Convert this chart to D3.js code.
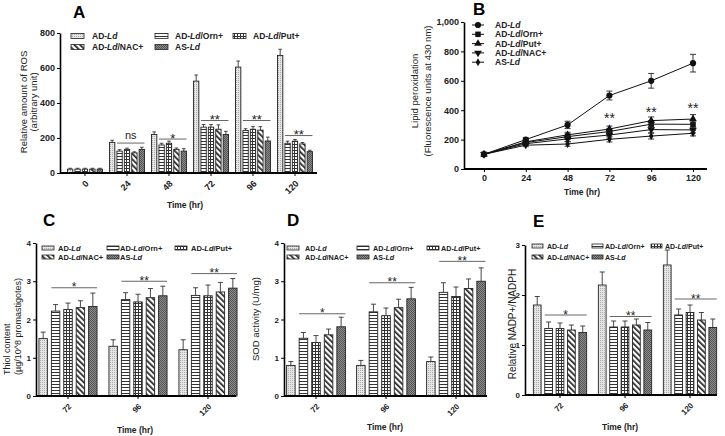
<!DOCTYPE html>
<html>
<head>
<meta charset="utf-8">
<script src="https://cdn.jsdelivr.net/npm/d3@7"></script>
<style>
body{margin:0;background:#fff}
svg{display:block;font-family:"Liberation Sans",Arial,sans-serif}
</style>
</head>
<body>
<div id="stage"></div>
<script>
// bar order inside every group, same order as legends
var series=["AD-Ld","AD-Ld/Orn+","AD-Ld/Put+","AD-Ld/NAC+","AS-Ld"];

// A - ROS
var rosTimes=["0","24","48","72","96","120"];
var rosMean=[[22,22,22,22,22],[175,125,135,115,135],[220,160,170,135,125],[525,262,262,250,220],[605,243,250,245,183],[672,170,182,166,122]];
var rosErr=[[5,5,5,5,5],[12,8,7,6,12],[15,10,12,8,14],[35,15,15,25,18],[35,10,15,20,22],[35,12,10,8,8]];
var rosSig=["","ns","*","**","**","**"];
var rosSigY=[0,171,194,300,300,214];

// B - lipid peroxidation
var lipTimes=[0,24,48,72,96,120];
var lipAD=[100,200,300,500,600,720];
var lipADerr=[8,12,25,30,50,60];
var lipOrn=[100,180,220,255,305,304];
var lipOrnErr=[8,12,20,20,25,25];
var lipPut=[100,185,232,272,329,340];
var lipPutErr=[8,12,18,20,25,30];
var lipNAC=[100,172,205,231,268,266];
var lipNACerr=[8,10,18,20,22,20];
var lipAS=[100,162,170,202,224,243];
var lipASerr=[8,10,15,18,20,18];
var lipSig=["","","","**","**","**"];
var lipSigY=[0,0,0,347,388,415];

// C - thiol
var hrs=["72","96","120"];
var thiolMean=[[1.5,2.22,2.26,2.31,2.34],[1.3,2.52,2.46,2.57,2.62],[1.21,2.63,2.62,2.72,2.82]];
var thiolErr=[[0.17,0.17,0.17,0.18,0.35],[0.17,0.18,0.2,0.24,0.25],[0.26,0.2,0.28,0.25,0.25]];
var thiolSig=["*","**","**"];
var thiolSigY=[2.83,3.0,3.2];

// D - SOD
var sodMean=[[0.8,1.51,1.4,1.6,1.81],[0.8,2.2,2.1,2.31,2.54],[0.9,2.71,2.6,2.81,3.0]];
var sodErr=[[0.1,0.15,0.18,0.15,0.25],[0.13,0.2,0.2,0.22,0.3],[0.12,0.25,0.25,0.25,0.35]];
var sodSig=["*","**","**"];
var sodSigY=[2.15,2.96,3.52];

// E - NADP+/NADPH
var nadpMean=[[1.8,1.33,1.33,1.3,1.25],[2.2,1.36,1.36,1.4,1.3],[2.6,1.6,1.65,1.5,1.35]];
var nadpErr=[[0.17,0.13,0.11,0.1,0.13],[0.26,0.12,0.12,0.12,0.15],[0.3,0.12,0.15,0.15,0.17]];
var nadpSig=["*","**","**"];
var nadpSigY=[1.6,1.57,1.92];

var svg=d3.select("#stage").append("svg").attr("width",725).attr("height",436);
svg.append("rect").attr("width",725).attr("height",436).attr("fill","#fff");
var defs=svg.append("defs");

function pat(id,w,h,bg,draw,rot){
  var p=defs.append("pattern").attr("id",id).attr("patternUnits","userSpaceOnUse")
    .attr("width",w).attr("height",h);
  if(rot) p.attr("patternTransform","rotate("+rot+")");
  p.append("rect").attr("width",w).attr("height",h).attr("fill",bg);
  draw(p);
}
pat("p0",2,2,"#e6e6e6",function(p){p.append("rect").attr("width",1).attr("height",1).attr("fill","#ababab")});
pat("p1",3,3,"#fff",function(p){p.append("rect").attr("width",3).attr("height",1).attr("fill","#333")});
pat("p2",3,3,"#fff",function(p){
  p.append("rect").attr("width",3).attr("height",1).attr("fill","#333");
  p.append("rect").attr("width",1).attr("height",3).attr("fill","#333");
});
pat("p3",4,4,"#fff",function(p){p.append("rect").attr("width",1.7).attr("height",4).attr("fill","#222")},-45);
pat("p4",2,2,"#8c8c8c",function(p){
  p.append("rect").attr("width",1).attr("height",1).attr("fill","#555");
  p.append("rect").attr("x",1).attr("y",1).attr("width",1).attr("height",1).attr("fill","#555");
});

// writes "AD-Ld/Orn+" with the Ld in italics
function richName(t,name){
  var parts=name.split("Ld");
  t.append("tspan").text(parts[0]);
  t.append("tspan").attr("font-style","italic").text("Ld");
  if(parts[1]) t.append("tspan").text(parts[1]);
}

function letter(txt,x,y){
  svg.append("text").attr("x",x).attr("y",y).attr("font-size",17).attr("font-weight","bold").text(txt);
}

function yTitle(lines,xs,y,fs,anchor){
  lines.forEach(function(l,i){
    svg.append("text").attr("transform","translate("+xs[i]+","+y+") rotate(-90)")
      .attr("text-anchor",anchor||"middle").attr("font-size",fs).attr("fill","#222").text(l);
  });
}

function xTitle(x,y,fs){
  svg.append("text").attr("x",x).attr("y",y).attr("text-anchor","middle")
    .attr("font-size",fs).attr("font-weight","bold").attr("fill","#222").text("Time (hr)");
}

function barLegend(o){
  series.forEach(function(s,i){
    var row=i<3?0:1, col=i<3?i:i-3;
    var yy=o.rows[row];
    svg.append("rect").attr("x",o.sw[col]).attr("y",yy-o.sh/2).attr("width",o.swW).attr("height",o.sh)
      .attr("fill","url(#p"+i+")").attr("stroke","#222").attr("stroke-width",0.8);
    var t=svg.append("text").attr("x",o.tx[col]).attr("y",yy+o.fs*0.36).attr("font-size",o.fs)
      .attr("font-weight","bold").attr("fill","#222");
    richName(t,s);
  });
}

function barPanel(o){
  var g=svg.append("g");
  var y=d3.scaleLinear().domain([0,o.yMax]).range([o.yBot,o.yTop]);
  var x=d3.scaleBand().domain(o.groups).range(o.band).paddingInner(o.gpad).paddingOuter(o.gpad/2);
  var xi=d3.scaleBand().domain(d3.range(series.length)).range([0,x.bandwidth()]).paddingInner(o.bpad);
  var bw=xi.bandwidth();
  var bars=[];
  o.groups.forEach(function(gr,i){
    o.mean[i].forEach(function(v,j){bars.push({g:gr,s:j,v:v,e:o.err[i][j]})});
  });
  function cx(d){return x(d.g)+xi(d.s)+bw/2}

  g.selectAll("rect.bar").data(bars).enter().append("rect")
    .attr("x",function(d){return x(d.g)+xi(d.s)})
    .attr("y",function(d){return y(d.v)})
    .attr("width",bw)
    .attr("height",function(d){return y(0)-y(d.v)})
    .attr("fill",function(d){return "url(#p"+d.s+")"})
    .attr("stroke","#222").attr("stroke-width",0.9);

  var eb=g.selectAll("g.eb").data(bars).enter().append("g").attr("stroke","#333").attr("stroke-width",0.9);
  eb.append("line").attr("x1",cx).attr("x2",cx)
    .attr("y1",function(d){return y(d.v)}).attr("y2",function(d){return y(d.v+d.e)});
  eb.append("line").attr("x1",function(d){return cx(d)-o.cap}).attr("x2",function(d){return cx(d)+o.cap})
    .attr("y1",function(d){return y(d.v+d.e)}).attr("y2",function(d){return y(d.v+d.e)});

  // significance bars over Orn..AS
  o.groups.forEach(function(gr,i){
    if(!o.sig[i]) return;
    var x1=x(gr)+xi(1), x2=x(gr)+xi(4)+bw, yy=y(o.sigY[i]);
    g.append("line").attr("x1",x1).attr("x2",x2).attr("y1",yy).attr("y2",yy).attr("stroke","#555").attr("stroke-width",0.9);
    g.append("text").attr("x",(x1+x2)/2).attr("y",o.sig[i]=="ns"?yy-4:yy+o.sigFs*0.3)
      .attr("text-anchor","middle").attr("font-size",o.sig[i]=="ns"?o.sigFs-2:o.sigFs).attr("fill","#222").text(o.sig[i]);
  });

  var ya=g.append("g").attr("transform","translate("+o.axX+",0)")
    .call(d3.axisLeft(y).tickValues(o.yTicks).tickFormat(d3.format("d")).tickSize(3).tickSizeOuter(0).tickPadding(2));
  ya.select(".domain").attr("stroke-width",1.6);
  ya.selectAll("text").attr("font-size",o.tickFs).attr("font-weight","bold").attr("fill","#222");

  var xa=g.append("g").attr("transform","translate(0,"+o.yBot+")")
    .call(d3.axisBottom(x).tickSize(3).tickSizeOuter(0));
  xa.select(".domain").remove();
  xa.selectAll("text").attr("x",0).attr("y",0).attr("dy","0.35em")
    .attr("transform","translate(2,9) rotate(-45)").style("text-anchor","end")
    .attr("font-size",o.tickFs).attr("font-weight","bold").attr("fill","#222");
  g.append("line").attr("x1",o.axX).attr("x2",o.axEnd).attr("y1",o.yBot).attr("y2",o.yBot)
    .attr("stroke","#000").attr("stroke-width",1.8);
}

// ---------- A ----------
barPanel({groups:rosTimes,mean:rosMean,err:rosErr,sig:rosSig,sigY:rosSigY,
  yMax:800,yTicks:[0,200,400,600,800],yBot:173,yTop:33,band:[64,316],gpad:0.167,bpad:0.28,
  axX:60,axEnd:317,cap:1.8,tickFs:9,sigFs:13});
barLegend({rows:[36,47],sw:[71,155,233],tx:[92,175,253],swW:13,sh:5,fs:8.5});
letter("A",73,18);
yTitle(["Relative amount of ROS","(arbitrary unit)"],[26.5,36.5],102,9.5);
xTitle(185,208,8.5);

// ---------- B ----------
(function(){
  var g=svg.append("g");
  var x=d3.scaleLinear().domain([0,120]).range([484,693]);
  var y=d3.scaleLinear().domain([0,1000]).range([169,22]);
  var lines=[
    {name:series[0],v:lipAD,e:lipADerr,sym:d3.symbolCircle,size:30,rot:0},
    {name:series[1],v:lipOrn,e:lipOrnErr,sym:d3.symbolSquare,size:30,rot:0},
    {name:series[2],v:lipPut,e:lipPutErr,sym:d3.symbolTriangle,size:26,rot:0},
    {name:series[3],v:lipNAC,e:lipNACerr,sym:d3.symbolTriangle,size:26,rot:180},
    {name:series[4],v:lipAS,e:lipASerr,sym:d3.symbolDiamond,size:18,rot:0}
  ];
  var line=d3.line().x(function(d){return x(d[0])}).y(function(d){return y(d[1])});
  lines.forEach(function(s){
    var pts=lipTimes.map(function(t,i){return [t,s.v[i],s.e[i]]});
    g.append("path").datum(pts).attr("d",line).attr("fill","none").attr("stroke","#111").attr("stroke-width",1);
    var eb=g.selectAll(null).data(pts).enter().append("g").attr("stroke","#222").attr("stroke-width",0.9);
    eb.append("line").attr("x1",function(d){return x(d[0])}).attr("x2",function(d){return x(d[0])})
      .attr("y1",function(d){return y(d[1]-d[2])}).attr("y2",function(d){return y(d[1]+d[2])});
    [-1,1].forEach(function(k){
      eb.append("line").attr("x1",function(d){return x(d[0])-3}).attr("x2",function(d){return x(d[0])+3})
        .attr("y1",function(d){return y(d[1]+k*d[2])}).attr("y2",function(d){return y(d[1]+k*d[2])});
    });
    g.selectAll(null).data(pts).enter().append("path")
      .attr("d",d3.symbol().type(s.sym).size(s.size))
      .attr("transform",function(d){return "translate("+x(d[0])+","+y(d[1])+") rotate("+s.rot+")"})
      .attr("fill","#111");
  });
  lipTimes.forEach(function(t,i){
    if(!lipSig[i]) return;
    g.append("text").attr("x",x(t)).attr("y",y(lipSigY[i])+5).attr("text-anchor","middle")
      .attr("font-size",14).attr("fill","#222").text(lipSig[i]);
  });
  // legend
  lines.forEach(function(s,i){
    var yy=25+i*9.3;
    g.append("line").attr("x1",472).attr("x2",484).attr("y1",yy).attr("y2",yy).attr("stroke","#111").attr("stroke-width",1);
    g.append("path").attr("d",d3.symbol().type(s.sym).size(s.size))
      .attr("transform","translate(478,"+yy+") rotate("+s.rot+")").attr("fill","#111");
    var t=g.append("text").attr("x",495).attr("y",yy+3).attr("font-size",8.5).attr("font-weight","bold").attr("fill","#222");
    richName(t,s.name);
  });
  var ya=g.append("g").attr("transform","translate(464,0)")
    .call(d3.axisLeft(y).tickValues([0,200,400,600,800,1000]).tickSize(3).tickSizeOuter(0).tickPadding(2));
  ya.select(".domain").attr("stroke-width",1.6);
  ya.selectAll("text").attr("font-size",9).attr("font-weight","bold").attr("fill","#222");
  var xa=g.append("g").attr("transform","translate(0,169)")
    .call(d3.axisBottom(x).tickValues(lipTimes).tickSize(3).tickPadding(3));
  xa.select(".domain").remove();
  xa.selectAll("text").attr("font-size",9).attr("font-weight","bold").attr("fill","#222");
  g.append("line").attr("x1",464).attr("x2",707).attr("y1",169).attr("y2",169).attr("stroke","#000").attr("stroke-width",1.8);
})();
letter("B",473,15);
yTitle(["Lipid peroxidation","(Fluorescence units at 430 nm)"],[417.5,431],91,9.5);
xTitle(582,195,8.5);

// ---------- C ----------
barPanel({groups:hrs,mean:thiolMean,err:thiolErr,sig:thiolSig,sigY:thiolSigY,
  yMax:4,yTicks:[0,1,2,3,4],yBot:396,yTop:243,band:[33,243],gpad:0.17,bpad:0.32,
  axX:36,axEnd:236,cap:2.5,tickFs:8,sigFs:12});
barLegend({rows:[248,257],sw:[42,107,175],tx:[58,120,191],swW:12,sh:4,fs:7.5});
letter("C",43,226);
yTitle(["Thiol content","(µg/10^8 promastigotes)"],[10,20.5],375,9,"start");
xTitle(135,433,8.5);

// ---------- D ----------
barPanel({groups:hrs,mean:sodMean,err:sodErr,sig:sodSig,sigY:sodSigY,
  yMax:4,yTicks:[0,1,2,3,4],yBot:396,yTop:243,band:[281,491],gpad:0.16,bpad:0.32,
  axX:284,axEnd:487,cap:2.5,tickFs:8,sigFs:12});
barLegend({rows:[248,257],sw:[287,357,427],tx:[305,373,441],swW:12,sh:4,fs:7.2});
letter("D",287,226);
yTitle(["SOD activity (U/mg)"],[258.5],319,9.5);
xTitle(385,430,8.5);

// ---------- E ----------
barPanel({groups:hrs,mean:nadpMean,err:nadpErr,sig:nadpSig,sigY:nadpSigY,
  yMax:3,yTicks:[0,1,2,3],yBot:395,yTop:245,band:[527.5,722.5],gpad:0.18,bpad:0.32,
  axX:525,axEnd:717,cap:2.5,tickFs:8,sigFs:12});
barLegend({rows:[246,257],sw:[532,592,651],tx:[547,605,665],swW:11,sh:4,fs:7});
letter("E",533,227);
yTitle(["Relative NADP+/NADPH"],[515.5],324,10);
xTitle(620,430,8.5);
</script>
</body>
</html>
